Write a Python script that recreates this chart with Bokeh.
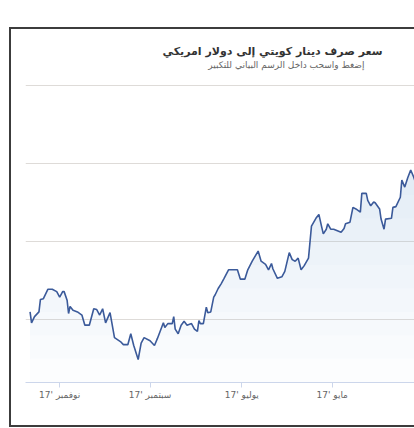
import numpy as np
import pandas as pd
from datetime import datetime
from bokeh.plotting import figure
from bokeh.models import Range1d, FixedTicker, Title
from bokeh.embed import file_html
from bokeh.resources import INLINE

title_text = "سعر صرف دينار كويتي إلى دولار امريكي"
subtitle_text = "إضغط واسحب داخل الرسم البياني للتكبير"

tick_dates = ["2017-03-01", "2017-05-01", "2017-07-01", "2017-09-01", "2017-11-01"]
tick_labels = ["مارس '17", "مايو '17", "يوليو '17", "سبتمبر '17", "نوفمبر '17"]
grid_values = [3.28, 3.29, 3.30, 3.31]

dates = [
    "2017-11-21", "2017-11-20", "2017-11-18", "2017-11-15", "2017-11-14", "2017-11-12",
    "2017-11-09", "2017-11-06", "2017-11-03", "2017-11-01", "2017-10-30", "2017-10-29",
    "2017-10-27", "2017-10-26", "2017-10-25", "2017-10-23", "2017-10-20", "2017-10-17",
    "2017-10-15", "2017-10-12", "2017-10-09", "2017-10-07", "2017-10-05", "2017-10-03",
    "2017-10-01", "2017-09-28", "2017-09-25", "2017-09-21", "2017-09-19", "2017-09-16",
    "2017-09-14", "2017-09-12", "2017-09-09", "2017-09-07", "2017-09-05", "2017-09-01",
    "2017-08-29", "2017-08-27", "2017-08-24", "2017-08-23", "2017-08-22", "2017-08-20",
    "2017-08-17", "2017-08-16", "2017-08-15", "2017-08-13", "2017-08-11", "2017-08-09",
    "2017-08-07", "2017-08-04", "2017-08-02", "2017-07-31", "2017-07-30", "2017-07-29",
    "2017-07-27", "2017-07-25", "2017-07-24", "2017-07-22", "2017-07-20", "2017-07-19",
    "2017-07-17", "2017-07-15", "2017-07-13", "2017-07-10", "2017-07-07", "2017-07-04",
    "2017-07-02", "2017-06-29", "2017-06-27", "2017-06-24", "2017-06-20", "2017-06-18",
    "2017-06-15", "2017-06-13", "2017-06-11", "2017-06-10", "2017-06-07", "2017-06-04",
    "2017-06-02", "2017-05-30", "2017-05-28", "2017-05-26", "2017-05-24", "2017-05-22",
    "2017-05-20", "2017-05-17", "2017-05-15", "2017-05-12", "2017-05-10", "2017-05-08",
    "2017-05-07", "2017-05-05", "2017-05-04", "2017-05-02", "2017-04-30", "2017-04-25",
    "2017-04-23", "2017-04-22", "2017-04-19", "2017-04-17", "2017-04-15", "2017-04-12",
    "2017-04-11", "2017-04-08", "2017-04-07", "2017-04-05", "2017-04-03", "2017-04-02",
    "2017-03-30", "2017-03-29", "2017-03-27", "2017-03-26", "2017-03-22", "2017-03-21",
    "2017-03-19", "2017-03-16", "2017-03-15", "2017-03-13", "2017-03-11", "2017-03-09",
    "2017-03-07", "2017-03-05",
]

rates = [
    3.2810, 3.2796, 3.2804, 3.2810, 3.2826, 3.2827,
    3.2839, 3.2839, 3.2836, 3.2829, 3.2836, 3.2836,
    3.2825, 3.2808, 3.2817, 3.2812, 3.2810, 3.2806,
    3.2793, 3.2793, 3.2814, 3.2813, 3.2806, 3.2814,
    3.2796, 3.2809, 3.2777, 3.2772, 3.2768, 3.2768,
    3.2782, 3.2767, 3.2749, 3.2770, 3.2777, 3.2773,
    3.2767, 3.2776, 3.2791, 3.2796, 3.2790, 3.2795,
    3.2795, 3.2804, 3.2788, 3.2782, 3.2793, 3.2798,
    3.2793, 3.2795, 3.2788, 3.2785, 3.2799, 3.2795,
    3.2795, 3.2816, 3.2809, 3.2810, 3.2829, 3.2832,
    3.2840, 3.2846, 3.2853, 3.2864, 3.2864, 3.2864,
    3.2852, 3.2852, 3.2864, 3.2875, 3.2888, 3.2875,
    3.2871, 3.2864, 3.2872, 3.2865, 3.2853, 3.2855,
    3.2862, 3.2886, 3.2877, 3.2875, 3.2879, 3.2864,
    3.2869, 3.2879, 3.2920, 3.2930, 3.2935, 3.2918,
    3.2910, 3.2916, 3.2923, 3.2916, 3.2916, 3.2912,
    3.2917, 3.2923, 3.2925, 3.2944, 3.2942, 3.2938,
    3.2962, 3.2962, 3.2953, 3.2946, 3.2951, 3.2950,
    3.2942, 3.2929, 3.2916, 3.2929, 3.2930, 3.2944,
    3.2945, 3.2957, 3.2979, 3.2970, 3.2982, 3.2992,
    3.2983, 3.2972,
]

x = pd.to_datetime(dates)
y = np.array(rates)

p = figure(
    width=403, height=396,
    x_axis_type="datetime",
    x_range=Range1d(datetime(2017, 11, 24, 2), datetime(2017, 3, 5, 2)),
    y_range=Range1d(3.27195, 3.31195),
    output_backend="svg", toolbar_location=None, title=None,
    min_border_left=14, min_border_right=0, min_border_top=41, min_border_bottom=47,
)
p.styles = {
    "box-sizing": "content-box",
    "margin-left": "9px",
    "margin-top": "27px",
    "border-left": "2px solid #3c3c3c",
    "border-top": "2px solid #3c3c3c",
    "border-bottom": "2px solid #3c3c3c",
    "border-right": "0px none transparent",
}
p.background_fill_color = "white"
p.border_fill_color = "white"
p.outline_line_color = None

# gradient-like area fill
for lvl in np.linspace(3.272, 3.299, 10):
    p.varea(x=x, y1=np.minimum(y, lvl), y2=y, fill_color="#9fbde0", fill_alpha=0.035)

p.line(x, y, line_color="#3b5a9a", line_width=1.6)

# axes / grid
p.yaxis.visible = False
p.xgrid.visible = False
p.ygrid.ticker = FixedTicker(ticks=grid_values)
p.ygrid.grid_line_color = "#dedbd8"
p.ygrid.grid_line_width = 1

tick_ms = [pd.Timestamp(d).value / 1e6 for d in tick_dates]
ax = p.xaxis[0]
ax.ticker = FixedTicker(ticks=tick_ms)
ax.major_label_overrides = {m: l for m, l in zip(tick_ms, tick_labels)}
ax.axis_line_color = "#ccd6eb"
ax.major_tick_line_color = "#ccd6eb"
ax.major_tick_in = 0
ax.major_tick_out = 5
ax.minor_tick_line_color = None
ax.major_label_text_font = "DejaVu Sans"
ax.major_label_text_font_size = "9px"
ax.major_label_text_color = "#666666"
ax.major_label_standoff = 2

sub = Title(text=subtitle_text, align="right", offset=52, text_font="DejaVu Sans",
            text_font_size="9px", text_font_style="normal", text_color="#666666",
            text_line_height=1.0, standoff=1)
main = Title(text=title_text, align="right", offset=34, text_font="DejaVu Sans",
             text_font_size="11px", text_font_style="bold", text_color="#333333",
             text_line_height=1.0, standoff=0)
p.add_layout(sub, "above")
p.add_layout(main, "above")

open("out.html", "w").write(file_html(p, INLINE))
